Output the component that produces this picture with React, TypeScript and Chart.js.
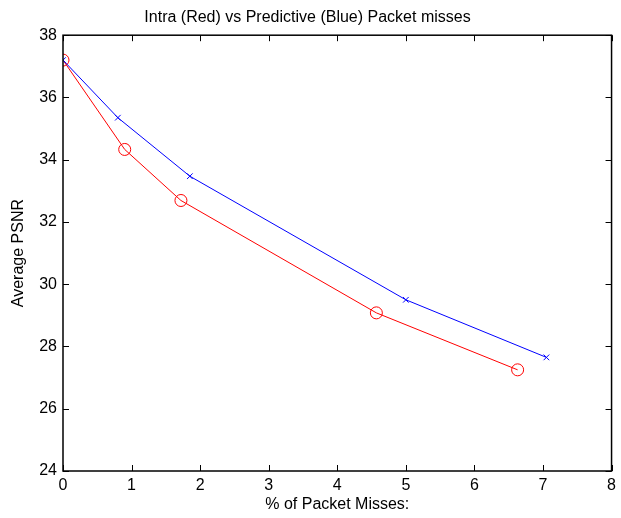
import React, { useEffect, useRef } from "react";
import { Chart, registerables } from "chart.js";

Chart.register(...registerables);

const titleText = "Intra (Red) vs Predictive (Blue) Packet misses";
const xLabel = "% of Packet Misses:";
const yLabel = "Average PSNR";

const xTicks = [0, 1, 2, 3, 4, 5, 6, 7, 8];
const yTicks = [24, 26, 28, 30, 32, 34, 36, 38];

const predictiveX = [0, 0.8, 1.85, 5.0, 7.05];
const predictivePSNR = [37.2, 35.35, 33.47, 29.5, 27.65];
const intraX = [0, 0.9, 1.72, 4.57, 6.63];
const intraPSNR = [37.2, 34.33, 32.69, 29.08, 27.25];

const FONT = "'Liberation Sans', Arial, Helvetica, sans-serif";

const boxTicks = {
  id: "boxTicks",
  afterDatasetsDraw(chart: any) {
    const { ctx, chartArea, scales } = chart;
    const { left, right, top, bottom } = chartArea;
    const x = scales.x;
    const y = scales.y;
    const len = 6;
    ctx.save();
    ctx.strokeStyle = "#000";
    ctx.lineWidth = 1;
    ctx.beginPath();
    xTicks.forEach((v) => {
      const px = Math.round(x.getPixelForValue(v)) + 0.5;
      ctx.moveTo(px, bottom);
      ctx.lineTo(px, bottom - len);
      ctx.moveTo(px, top);
      ctx.lineTo(px, top + len);
    });
    yTicks.forEach((v) => {
      const py = Math.round(y.getPixelForValue(v)) + 0.5;
      ctx.moveTo(left, py);
      ctx.lineTo(left + len, py);
      ctx.moveTo(right, py);
      ctx.lineTo(right - len, py);
    });
    ctx.stroke();
    ctx.lineWidth = 1.5;
    ctx.strokeRect(left, top, right - left, bottom - top);
    ctx.restore();
  },
};

export default function App() {
  const canvasRef = useRef<HTMLCanvasElement | null>(null);

  useEffect(() => {
    if (!canvasRef.current) return;
    const chart = new Chart(canvasRef.current, {
      type: "scatter",
      data: {
        datasets: [
          {
            label: "Predictive",
            data: predictiveX.map((v, i) => ({ x: v, y: predictivePSNR[i] })),
            showLine: true,
            borderColor: "#0000ff",
            backgroundColor: "#0000ff",
            borderWidth: 1,
            pointStyle: "crossRot",
            pointRadius: 4,
            pointBorderWidth: 1,
            pointBorderColor: "#0000ff",
          },
          {
            label: "Intra",
            data: intraX.map((v, i) => ({ x: v, y: intraPSNR[i] })),
            showLine: true,
            borderColor: "#ff0000",
            backgroundColor: "rgba(0,0,0,0)",
            borderWidth: 1,
            pointStyle: "circle",
            pointRadius: 6,
            pointBorderWidth: 1,
            pointBorderColor: "#ff0000",
          },
        ],
      },
      options: {
        responsive: false,
        animation: false,
        layout: { padding: { left: 0, right: 6, top: 0, bottom: 0 } },
        plugins: {
          legend: { display: false },
          tooltip: { enabled: false },
          title: {
            display: true,
            text: titleText,
            color: "#000",
            font: { family: FONT, size: 16, weight: "normal", lineHeight: 1.2 },
            padding: { top: 8, bottom: 8 },
          },
        },
        scales: {
          x: {
            type: "linear",
            min: 0,
            max: 8,
            afterFit: (s: any) => {
              s.height = 47;
            },
            afterBuildTicks: (s: any) => {
              s.ticks = xTicks.map((v) => ({ value: v }));
            },
            grid: { display: false, drawTicks: false },
            border: { display: false },
            ticks: {
              color: "#000",
              padding: 5,
              autoSkip: false,
              maxRotation: 0,
              font: { family: FONT, size: 16 },
            },
            title: {
              display: true,
              text: xLabel,
              color: "#000",
              font: { family: FONT, size: 16, lineHeight: 1.2 },
              padding: { top: 0, bottom: 4 },
            },
          },
          y: {
            type: "linear",
            min: 24,
            max: 38,
            afterFit: (s: any) => {
              s.width = 63;
            },
            afterBuildTicks: (s: any) => {
              s.ticks = yTicks.map((v) => ({ value: v }));
            },
            grid: { display: false, drawTicks: false },
            border: { display: false },
            ticks: {
              color: "#000",
              padding: 6,
              autoSkip: false,
              font: { family: FONT, size: 16 },
            },
            title: {
              display: true,
              text: yLabel,
              color: "#000",
              font: { family: FONT, size: 16, lineHeight: 1.2 },
              padding: { top: 9, bottom: 0 },
            },
          },
        },
      },
      plugins: [boxTicks],
    });
    return () => chart.destroy();
  }, []);

  return (
    <div
      style={{
        position: "fixed",
        left: 0,
        top: 0,
        width: 621,
        height: 518,
        background: "#fff",
      }}
    >
      <canvas ref={canvasRef} width={621} height={518} />
    </div>
  );
}
